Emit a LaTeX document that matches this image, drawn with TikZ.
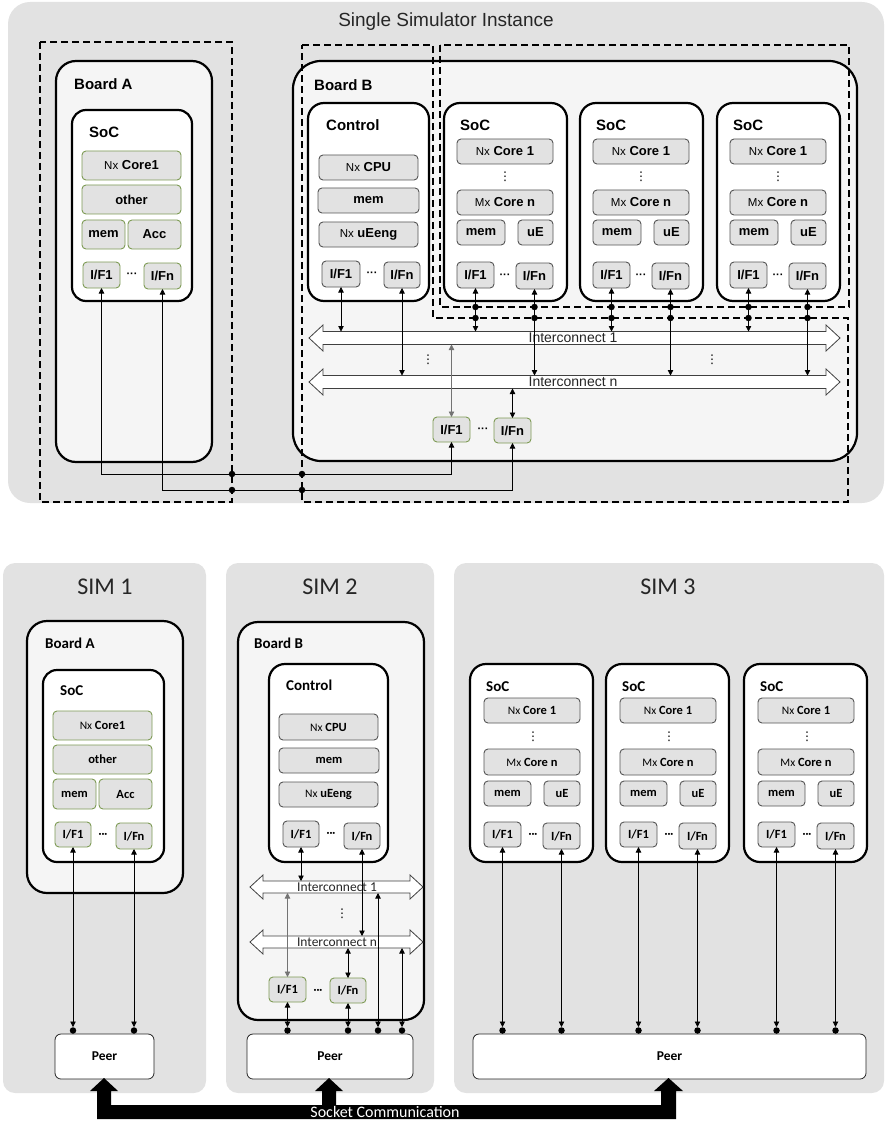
\documentclass[tikz,border=0pt]{standalone}
\usepackage{fontspec}
\usetikzlibrary{arrows.meta}
\newfontfamily\arialf{Liberation Sans}
\newfontfamily\calf{Carlito}
\newfontfamily\djv{DejaVu Sans}
\definecolor{panelgray}{HTML}{E2E2E2}
\definecolor{boardfill}{HTML}{F5F5F5}
\definecolor{boxfill}{HTML}{E2E2E2}
\definecolor{greenbd}{HTML}{7E9B55}
\definecolor{graybd}{HTML}{555555}
\newcommand\bx[7][]{\node[#1, minimum width={((#5)-(#3))*1pt}, minimum height={((#6)-(#4))*1pt}] (#2) at ({((#3)+(#5))/2},{((#4)+(#6))/2}) {#7};}
\newcommand\Nx{{\mdseries\fontsize{11.5}{12}\selectfont Nx}}
\newcommand\Mx{{\mdseries\fontsize{11.5}{12}\selectfont Mx}}
% x1, x2, yc, headlen, headhalf, bandhalf
\newcommand\icband[6]{\draw[icst] (#1,#3) -- ({#1+#4},{#3-#5}) -- ({#1+#4},{#3-#6}) -- ({#2-#4},{#3-#6}) -- ({#2-#4},{#3-#5}) -- (#2,#3) -- ({#2-#4},{#3+#5}) -- ({#2-#4},{#3+#6}) -- ({#1+#4},{#3+#6}) -- ({#1+#4},{#3+#5}) -- cycle;}
\tikzset{
 board/.style={draw=black, line width=2.2pt, fill=boardfill, rounded corners=20pt, inner sep=0pt, outer sep=0pt},
 socbox/.style={draw=black, line width=2.2pt, fill=white, rounded corners=16pt, inner sep=0pt, outer sep=0pt},
 gbox/.style={draw=greenbd, fill=boxfill, line width=0.9pt, rounded corners=4pt, inner sep=0pt, outer sep=0pt},
 kbox/.style={gbox, draw=graybd},
 fa/.style={font=\arialf\bfseries\fontsize{13}{14}\selectfont},
 fc/.style={font=\calf\bfseries\fontsize{12.5}{14}\selectfont},
 fdota/.style={inner sep=0pt, font=\arialf\bfseries\fontsize{11}{12}\selectfont},
 fdotc/.style={inner sep=0pt, font=\calf\bfseries\fontsize{11}{12}\selectfont},
 lbla/.style={anchor=west, inner sep=0pt, font=\arialf\bfseries\fontsize{15}{17}\selectfont},
 lblc/.style={anchor=west, inner sep=0pt, font=\calf\bfseries\fontsize{15}{17}\selectfont},
 peer/.style={draw=black!85, fill=white, line width=0.8pt, rounded corners=6pt, inner sep=0pt, outer sep=0pt, font=\calf\bfseries\fontsize{13.5}{15}\selectfont},
 conn/.style={draw=black, line width=0.8pt},
 biarr/.style={conn, <->},
 dot/.style={circle, fill=black, inner sep=0pt, minimum size=6.5pt},
 dashb/.style={draw=black, line width=2.2pt, dash pattern=on 7pt off 4pt},
 icst/.style={draw=black!75, fill=white, line width=0.8pt},
 vd/.style={inner sep=0pt, font=\djv\fontsize{12}{12}\selectfont},
 sim/.style={inner sep=0pt, text=black!85, font=\calf\fontsize{24}{26}\selectfont},
}
\begin{document}
\begin{tikzpicture}[x=1pt,y=-1pt, >={Triangle[length=5.5pt,width=5.5pt]}]
\useasboundingbox (0,0) rectangle (885,1123);
% ================= panels =================
\fill[panelgray, rounded corners=22pt] (8,2) rectangle (884,503);
\fill[panelgray, rounded corners=12pt] (3,563) rectangle (206,1093);
\fill[panelgray, rounded corners=12pt] (226,563) rectangle (434,1093);
\fill[panelgray, rounded corners=12pt] (454,563) rectangle (884,1093);
\node[inner sep=0pt, text=black!85, font=\arialf\fontsize{19}{22}\selectfont] (title) at (446,22) {Single Simulator Instance};
\node[sim] (sim1) at (105,587) {SIM 1};
\node[sim] (sim2) at (330,587) {SIM 2};
\node[sim] (sim3) at (668,587) {SIM 3};

% ================= TOP: Board A =================
\bx[board]{bA}{56}{61}{212}{462}{}
\node[lbla] (bAL) at (74,84) {Board A};
\bx[socbox, rounded corners=14pt]{sA}{72}{110}{192}{301}{}
\node[lbla] (sAL) at (89,132) {SoC};
\bx[gbox,fa]{aCore}{82}{151}{181}{180}{\Nx\ Core1}
\bx[gbox,fa]{aOther}{82}{185}{181}{214}{other}
\bx[gbox,fa]{aMem}{82}{220}{125}{249}{mem}
\bx[gbox,fa]{aAcc}{128}{220}{181}{249}{Acc}
\bx[gbox,fa]{aIF1}{83}{262}{120}{288}{I/F1}
\bx[gbox,fa]{aIFn}{144}{263}{181}{289}{I/Fn}
\node[fdota] (aD) at (132,275) {···};

% ================= TOP: Board B =================
\bx[board, rounded corners=28pt]{bB}{293}{61}{857}{461}{}
\node[lbla] (bBL) at (314,85) {Board B};
\bx[socbox]{cB}{308}{103}{429}{301}{}
\node[lbla] (cBL) at (326,125) {Control};
\bx[kbox,fa]{cCPU}{319}{155}{418}{180}{\Nx\ CPU}
\bx[kbox,fa]{cMem}{318}{188}{419}{213}{mem}
\bx[kbox,fa]{cUE}{319}{222}{418}{247}{\Nx\ uEeng}
\bx[kbox,fa]{cIF1}{322}{261}{360}{287}{I/F1}
\bx[kbox,fa]{cIFn}{384}{262}{420}{288}{I/Fn}
\node[fdota] (cD) at (372,274) {···};

\foreach \k/\dx in {1/0,2/136,3/273}{
 \bx[socbox]{s\k}{444+\dx}{103}{567+\dx}{301}{}
 \node[lbla] (s\k L) at (460+\dx,125) {SoC};
 \bx[kbox,fa]{s\k C1}{457+\dx}{139}{553+\dx}{164}{\Nx\ Core 1}
 \node[vd] (s\k V) at (505+\dx,177) {⋮};
 \bx[kbox,fa]{s\k Cn}{457+\dx}{190}{553+\dx}{215}{\Mx\ Core n}
 \bx[kbox,fa]{s\k M}{457+\dx}{220}{505+\dx}{245}{mem}
 \bx[kbox,fa]{s\k U}{518+\dx}{220}{553+\dx}{245}{uE}
 \bx[kbox,fa]{s\k IF1}{457+\dx}{262}{494+\dx}{288}{I/F1}
 \bx[kbox,fa]{s\k IFn}{516+\dx}{263}{553+\dx}{289}{I/Fn}
 \node[fdota] (s\k D) at (505+\dx,276) {···};
}

% interconnects (top)
\icband{309}{840}{338}{14}{13}{6.5}
\icband{309}{840}{382}{14}{13}{6.5}
\node[inner sep=0pt, text=black!85, font=\arialf\fontsize{14}{16}\selectfont] (ic1L) at (573,338) {Interconnect 1};
\node[inner sep=0pt, text=black!85, font=\arialf\fontsize{14}{16}\selectfont] (icnL) at (573,382) {Interconnect n};
\node[vd] (icV1) at (428,360) {⋮};
\node[vd] (icV2) at (712,360) {⋮};

\bx[gbox,fa]{bIF1}{433}{417}{470}{442}{I/F1}
\bx[gbox,fa]{bIFn}{494}{418}{531}{443}{I/Fn}
\node[fdota] (bD) at (483,430) {···};

% dashed regions
\draw[dashb] (40,42) rectangle (232,502);
\draw[dashb] (302,45) -- (433,45) -- (433,318) -- (848,318) -- (848,502) -- (302,502) -- cycle;
\draw[dashb] (440,45) rectangle (849,307);

% top connectors
\coordinate (ic1T) at (0,331.5);
\coordinate (ic1B) at (0,344.5);
\coordinate (icnT) at (0,375.5);
\coordinate (icnB) at (0,388.5);
\coordinate (dA) at (0,307);
\coordinate (dB) at (0,318);
\coordinate (yA) at (0,474);
\coordinate (yB) at (0,490);
\draw[biarr] (cIF1.south) -- (cIF1.south |- ic1T);
\draw[biarr] (cIFn.south) -- (cIFn.south |- icnT);
\foreach \k in {1,2,3}{
 \draw[biarr] (s\k IF1.south) -- (s\k IF1.south |- ic1T);
 \draw[biarr] (s\k IFn.south) -- (s\k IFn.south |- icnT);
 \node[dot] (s\k pa) at (s\k IF1.south |- dA) {};
 \node[dot] (s\k pb) at (s\k IF1.south |- dB) {};
 \node[dot] (s\k qa) at (s\k IFn.south |- dA) {};
 \node[dot] (s\k qb) at (s\k IFn.south |- dB) {};
}
\draw[biarr, draw=black!55] (bIF1.north) -- (bIF1.north |- ic1B);
\draw[biarr] (bIFn.north) -- (bIFn.north |- icnB);
\draw[biarr] (bIF1.south) -- (bIF1.south |- yA) -- (aIF1.south |- yA) -- (aIF1.south);
\draw[biarr] (bIFn.south) -- (bIFn.south |- yB) -- (aIFn.south |- yB) -- (aIFn.south);
\node[dot] (x1) at (232,474) {};
\node[dot] (x2) at (302,474) {};
\node[dot] (x3) at (232,490) {};
\node[dot] (x4) at (302,490) {};

% ================= BOTTOM: SIM 1 =================
\bx[board]{mA}{27}{621}{183}{893}{}
\node[lblc] (mAL) at (45,643) {Board A};
\bx[socbox, rounded corners=14pt]{mS}{43}{670}{164}{862}{}
\node[lblc] (mSL) at (60,691) {SoC};
\bx[gbox,fc]{mCore}{53}{711}{152}{740}{\Nx\ Core1}
\bx[gbox,fc]{mOther}{53}{745}{152}{774}{other}
\bx[gbox,fc]{mMem}{53}{779}{96}{809}{mem}
\bx[gbox,fc]{mAcc}{99}{779}{152}{809}{Acc}
\bx[gbox,fc]{mIF1}{55}{822}{91}{847}{I/F1}
\bx[gbox,fc]{mIFn}{116}{823}{152}{849}{I/Fn}
\node[fdotc] (mD) at (103,835) {···};
\bx[peer]{peer1}{55}{1034}{154}{1079}{Peer}

% ================= BOTTOM: SIM 2 =================
\bx[board]{nB}{238}{622}{424}{1020}{}
\node[lblc] (nBL) at (254,643) {Board B};
\bx[socbox]{nC}{269}{664}{388}{862}{}
\node[lblc] (nCL) at (286,685) {Control};
\bx[kbox,fc]{nCPU}{279}{714}{378}{740}{\Nx\ CPU}
\bx[kbox,fc]{nMem}{279}{748}{379}{773}{mem}
\bx[kbox,fc]{nUE}{279}{782}{378}{807}{\Nx\ uEeng}
\bx[kbox,fc]{nIF1}{283}{821}{319}{847}{I/F1}
\bx[kbox,fc]{nIFn}{344}{823}{380}{849}{I/Fn}
\node[fdotc] (nD) at (331,834) {···};
\icband{250}{423}{887}{13}{12}{6}
\icband{250}{423}{942}{13}{12}{6}
\node[inner sep=0pt, text=black!85, font=\calf\fontsize{13.5}{15}\selectfont] (nic1L) at (337,887) {Interconnect 1};
\node[inner sep=0pt, text=black!85, font=\calf\fontsize{13.5}{15}\selectfont] (nicnL) at (337,942) {Interconnect n};
\node[vd] (nV) at (342,914) {⋮};
\bx[gbox,fc]{nbIF1}{269}{977}{306}{1002}{I/F1}
\bx[gbox,fc]{nbIFn}{330}{978}{366}{1003}{I/Fn}
\node[fdotc] (nbD) at (318,991) {···};
\bx[peer]{peer2}{247}{1034}{413}{1079}{Peer}

% ================= BOTTOM: SIM 3 =================
\foreach \k/\dx in {1/0,2/136,3/274}{
 \bx[socbox]{r\k}{470+\dx}{664}{593+\dx}{862}{}
 \node[lblc] (r\k L) at (486+\dx,687) {SoC};
 \bx[kbox,fc]{r\k C1}{484+\dx}{698}{580+\dx}{723}{\Nx\ Core 1}
 \node[vd] (r\k V) at (533+\dx,737) {⋮};
 \bx[kbox,fc]{r\k Cn}{484+\dx}{749}{580+\dx}{775}{\Mx\ Core n}
 \bx[kbox,fc]{r\k M}{484+\dx}{781}{531+\dx}{806}{mem}
 \bx[kbox,fc]{r\k U}{544+\dx}{781}{580+\dx}{806}{uE}
 \bx[kbox,fc]{r\k IF1}{484+\dx}{822}{521+\dx}{847}{I/F1}
 \bx[kbox,fc]{r\k IFn}{543+\dx}{823}{580+\dx}{849}{I/Fn}
 \node[fdotc] (r\k D) at (533+\dx,835) {···};
}
\bx[peer]{peer3}{473}{1034}{866}{1079}{Peer}

% bottom connectors
\coordinate (pT) at (0,1027);
\coordinate (pD) at (0,1030.5);
\coordinate (b1T) at (0,881);
\coordinate (b1B) at (0,893);
\coordinate (bnT) at (0,936);
\coordinate (bnB) at (0,948);
\foreach \n in {mIF1,mIFn,nbIF1,nbIFn,r1IF1,r1IFn,r2IF1,r2IFn,r3IF1,r3IFn}{
 \draw[biarr] (\n.south) -- (\n.south |- pT);
 \node[dot] (\n pd) at (\n.south |- pD) {};
}
\draw[biarr] (nIF1.south) -- (nIF1.south |- b1T);
\draw[biarr] (nIFn.south) -- (nIFn.south |- bnT);
\draw[biarr, draw=black!55] (nbIF1.north) -- (nbIF1.north |- b1B);
\draw[biarr] (nbIFn.north) -- (nbIFn.north |- bnB);
\coordinate (q1) at (378,1027);
\coordinate (q2) at (402,1027);
\draw[biarr] (q1) -- (q1 |- b1B);
\draw[biarr] (q2) -- (q2 |- bnB);
\node[dot] (q1d) at (378,1030.5) {};
\node[dot] (q2d) at (402,1030.5) {};

% socket communication
\fill[black] (97,1119) -- (97,1091) -- (90,1091) -- (104,1078) -- (118,1091) -- (111,1091) -- (111,1105) -- (322,1105) -- (322,1091) -- (315,1091) -- (329,1078) -- (343,1091) -- (336,1091) -- (336,1105) -- (661,1105) -- (661,1091) -- (654,1091) -- (668.5,1078) -- (683,1091) -- (676,1091) -- (676,1119) -- cycle;
\node[inner sep=0pt, text=white, font=\calf\fontsize{16}{18}\selectfont] (sock) at (385,1112) {Socket Communication};
\end{tikzpicture}
\end{document}
